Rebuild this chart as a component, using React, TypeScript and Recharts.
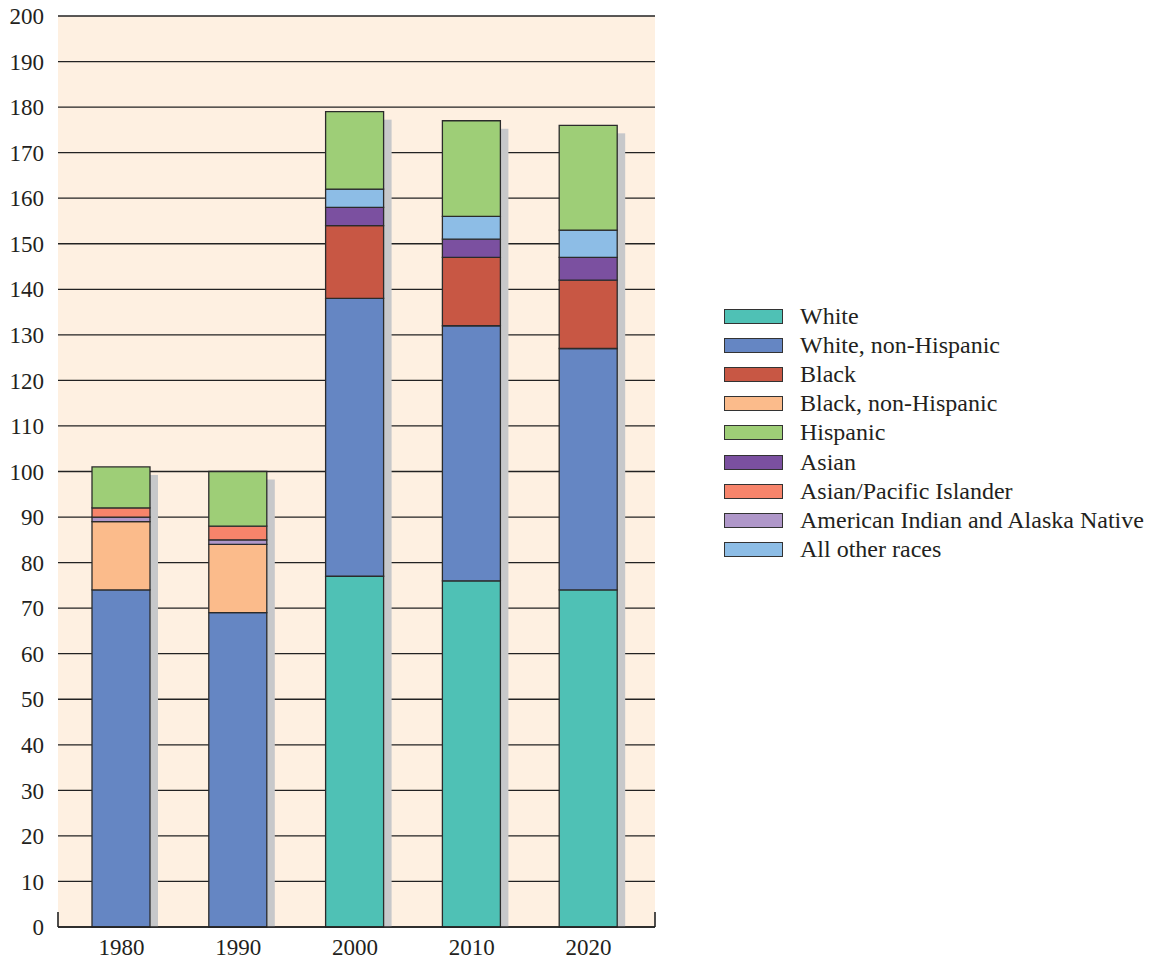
import { Bar, BarChart, CartesianGrid, Legend, XAxis, YAxis } from "recharts";

const YEARS = ["1980", "1990", "2000", "2010", "2020"];
const WHITE = [0, 0, 77, 76, 74];
const WHITE_NH = [74, 69, 61, 56, 53];
const BLACK = [0, 0, 16, 15, 15];
const BLACK_NH = [15, 15, 0, 0, 0];
const AIAN = [1, 1, 0, 0, 0];
const API = [2, 3, 0, 0, 0];
const ASIAN = [0, 0, 4, 4, 5];
const OTHER = [0, 0, 4, 5, 6];
const HISPANIC = [9, 12, 17, 21, 23];
const Y_TICKS = [0, 10, 20, 30, 40, 50, 60, 70, 80, 90, 100, 110, 120, 130, 140, 150, 160, 170, 180, 190, 200];
const EDGE_TICKS = [0, YEARS.length - 1];

const INK = "#231f20";
const LINE = "#222222";
const BG = "#fef0e1";
const SHADOW = "#c7c8ca";
const FONT = { fontFamily: "Liberation Serif", fontSize: 23, fill: INK };

// bottom to top in each bar
const SERIES = [
  { key: "white", name: "White", color: "#4fc1b5", values: WHITE },
  { key: "whiteNH", name: "White, non-Hispanic", color: "#6586c3", values: WHITE_NH },
  { key: "black", name: "Black", color: "#c85744", values: BLACK },
  { key: "blackNH", name: "Black, non-Hispanic", color: "#fbbb8b", values: BLACK_NH },
  { key: "aian", name: "American Indian and Alaska Native", color: "#af97c9", values: AIAN },
  { key: "api", name: "Asian/Pacific Islander", color: "#f7846b", values: API },
  { key: "asian", name: "Asian", color: "#7b50a0", values: ASIAN },
  { key: "other", name: "All other races", color: "#8dbde6", values: OTHER },
  { key: "hispanic", name: "Hispanic", color: "#9ece77", values: HISPANIC },
];

const LEGEND_ORDER = ["white", "whiteNH", "black", "blackNH", "hispanic", "asian", "api", "aian", "other"];

const data = YEARS.map((year, i) => {
  const row: Record<string, number | string> = { year };
  let total = 0;
  SERIES.forEach((s) => {
    row[s.key] = s.values[i];
    total += s.values[i];
  });
  row.total = total;
  return row;
});

function ShadowShape(props: any) {
  const { x, y, width, height } = props;
  if (!height || height <= 8) return null;
  return <rect x={x + 8} y={y + 8} width={width} height={height - 8} fill={SHADOW} />;
}

function LegendBox() {
  return (
    <div style={{ fontFamily: "Liberation Serif", fontSize: 24, color: INK }}>
      {LEGEND_ORDER.map((k) => {
        const s = SERIES.find((d) => d.key === k)!;
        return (
          <div key={k} style={{ display: "flex", alignItems: "center", height: 29.1 }}>
            <span
              style={{
                display: "inline-block",
                flex: "none",
                width: 57,
                height: 13,
                background: s.color,
                border: "1px solid #333",
                marginRight: 17,
              }}
            />
            <span style={{ whiteSpace: "nowrap" }}>{s.name}</span>
          </div>
        );
      })}
    </div>
  );
}

export default function App() {
  return (
    <div style={{ position: "absolute", left: 0, top: 0, width: 1153, height: 959, background: "#fff" }}>
      <BarChart
        width={1153}
        height={959}
        data={data}
        margin={{ top: 16, right: 498, bottom: 0, left: 0 }}
        barSize={58}
        barGap={-58}
      >
        <CartesianGrid vertical={false} stroke={LINE} strokeWidth={1.3} fill={BG} fillOpacity={1} />
        {/* short end ticks at both ends of the baseline */}
        <XAxis
          xAxisId="edge"
          type="number"
          domain={[0, YEARS.length - 1]}
          allowDataOverflow
          ticks={EDGE_TICKS}
          interval={0}
          tick={() => <g />}
          axisLine={false}
          tickLine={{ stroke: LINE, strokeWidth: 1.6 }}
          tickSize={15}
          height={1}
          mirror
        />
        <XAxis
          dataKey="year"
          padding={{ left: 5, right: 8 }}
          axisLine={{ stroke: LINE, strokeWidth: 1.6 }}
          tickLine={false}
          tickSize={0}
          tickMargin={12}
          tick={FONT}
          height={32}
        />
        <YAxis
          width={58}
          domain={[0, 200]}
          ticks={Y_TICKS}
          interval={0}
          axisLine={false}
          tickLine={false}
          tickSize={0}
          tickMargin={14}
          tick={FONT}
        />
        <Legend
          layout="vertical"
          align="center"
          verticalAlign="middle"
          content={() => <LegendBox />}
          wrapperStyle={{ left: 724, top: 302, width: 429 }}
        />
        <Bar dataKey="total" legendType="none" shape={ShadowShape} isAnimationActive={false} />
        {SERIES.map((s) => (
          <Bar
            key={s.key}
            dataKey={s.key}
            name={s.name}
            stackId="a"
            fill={s.color}
            stroke="#2b2b2b"
            strokeWidth={1.3}
            isAnimationActive={false}
          />
        ))}
      </BarChart>
    </div>
  );
}
